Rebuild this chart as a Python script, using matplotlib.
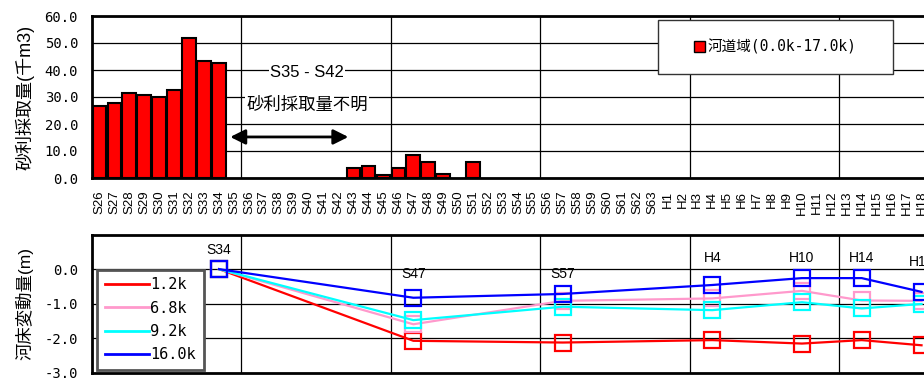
import matplotlib
matplotlib.use("Agg")
import matplotlib.pyplot as plt
from matplotlib.patches import Patch, Rectangle
from matplotlib.lines import Line2D

plt.rcParams['font.family'] = ['Liberation Sans', 'Noto Sans CJK JP']

# --- data ---
categories = ['S%d' % y for y in range(26, 64)] + ['H%d' % y for y in range(1, 19)]

bar_years = ['S26', 'S27', 'S28', 'S29', 'S30', 'S31', 'S32', 'S33', 'S34',
             'S43', 'S44', 'S45', 'S46', 'S47', 'S48', 'S49', 'S51']
bar_values = [26.7, 27.9, 31.6, 30.7, 30.0, 32.5, 52.0, 43.5, 42.7,
              3.6, 4.6, 1.0, 3.8, 8.6, 5.8, 1.4, 5.8]

survey_years = ['S34', 'S47', 'S57', 'H4', 'H10', 'H14', 'H18']
bed_1_2k = [0.0, -2.08, -2.13, -2.06, -2.16, -2.06, -2.21]
bed_6_8k = [0.0, -1.60, -0.92, -0.85, -0.63, -0.91, -0.92]
bed_9_2k = [0.0, -1.48, -1.09, -1.19, -0.96, -1.14, -1.01]
bed_16_0k = [0.0, -0.83, -0.72, -0.46, -0.26, -0.26, -0.66]
series_names = ['1.2k', '6.8k', '9.2k', '16.0k']
series_colors = ['#ff0000', '#ff99cc', '#00ffff', '#0000ff']

# label heights above the points (layout only)
label_y = [0.56, -0.14, -0.14, 0.32, 0.32, 0.32, 0.20]

mono = ['DejaVu Sans Mono', 'Noto Sans CJK JP']

fig = plt.figure(figsize=(9.24, 3.78), dpi=100)
ax1 = fig.add_axes([92 / 924, 1 - 178 / 378, 837 / 924, 162 / 378])
ax2 = fig.add_axes([92 / 924, 1 - 372.5 / 378, 837 / 924, 137.8 / 378])

pos = {c: i for i, c in enumerate(categories)}
n = len(categories)

# --- top: gravel extraction bars ---
ax1.bar([pos[c] for c in bar_years], bar_values, width=0.92, color='#ff0000',
        edgecolor='black', linewidth=1.5, zorder=3)
ax1.set_xlim(-0.5, n - 0.5)
ax1.set_ylim(0, 60)
ax1.set_yticks(range(0, 61, 10))
ax1.set_yticklabels(['%.1f' % v for v in range(0, 61, 10)], family=mono, fontsize=10)
ax1.set_xticks(range(n))
ax1.set_xticklabels(categories, rotation=90, fontsize=9.5)
ax1.tick_params(axis='x', length=0, pad=9)
ax1.tick_params(axis='y', length=0, pad=10)
ax1.grid(axis='y', color='black', linewidth=0.9, zorder=0)
for xv in range(10, n, 10):
    ax1.axvline(xv - 0.5, color='black', linewidth=0.9, zorder=0)
for s in ax1.spines.values():
    s.set_linewidth(2)
ax1.set_ylabel('砂利採取量(千m3)', fontsize=13, labelpad=7)

ax1.annotate('', xy=(8.75, 15.2), xytext=(16.65, 15.2),
             arrowprops=dict(arrowstyle='<|-|>,head_length=0.9,head_width=0.45',
                             color='black', lw=2, shrinkA=0, shrinkB=0))
ax1.text(13.9, 39.0, 'S35 - S42', ha='center', va='center', fontsize=12,
         bbox=dict(facecolor='white', edgecolor='none', pad=1), zorder=4)
ax1.text(13.9, 27.2, '砂利採取量不明', ha='center', va='center', fontsize=12.5,
         bbox=dict(facecolor='white', edgecolor='none', pad=1), zorder=4)

ax1.add_patch(Rectangle((0.676, 0.642), 0.281, 0.333, transform=ax1.transAxes,
                        facecolor='white', edgecolor='#333333', lw=1.0, zorder=4))
ax1.legend(handles=[Patch(facecolor='#ff0000', edgecolor='black')],
           labels=['河道域(0.0k-17.0k)'], loc='center',
           bbox_to_anchor=(0.676, 0.642, 0.281, 0.333),
           prop={'family': mono, 'size': 10.5}, frameon=False,
           handlelength=0.75, handleheight=0.75, handletextpad=0.2)

# --- bottom: riverbed change ---
xs = [pos[c] for c in survey_years]
for vals, name, col in zip([bed_1_2k, bed_6_8k, bed_9_2k, bed_16_0k], series_names, series_colors):
    ax2.plot(xs, vals, color=col, lw=1.6, marker='s', markersize=11,
             markerfacecolor='none', markeredgecolor=col, markeredgewidth=1.6,
             label=name, zorder=3)
for x, ly, t in zip(xs, label_y, survey_years):
    ax2.text(x, ly, t, ha='center', va='center', fontsize=10)

ax2.set_xlim(-0.5, n - 0.5)
ax2.set_ylim(-3, 1)
ax2.set_yticks([0, -1, -2, -3])
ax2.set_yticklabels(['0.0', '-1.0', '-2.0', '-3.0'], family=mono, fontsize=10)
ax2.set_xticks([])
ax2.tick_params(axis='y', length=0, pad=10)
for yv in [0, -1, -2]:
    ax2.axhline(yv, color='black', linewidth=0.9, zorder=0)
for xv in range(10, n, 10):
    ax2.axvline(xv - 0.5, color='black', linewidth=0.9, zorder=0)
for s in ax2.spines.values():
    s.set_linewidth(2)
ax2.set_ylabel('河床変動量(m)', fontsize=12.5, labelpad=8)

handles = [Line2D([], [], color=c, lw=2) for c in series_colors]
leg2 = ax2.legend(handles, series_names, loc='lower left',
                  bbox_to_anchor=(0.006, 0.018), borderaxespad=0,
                  prop={'family': mono, 'size': 11}, fancybox=False,
                  framealpha=1, edgecolor='#555555', handlelength=2.9,
                  handletextpad=0.1, labelspacing=0.55, borderpad=0.5)
leg2.get_frame().set_linewidth(2)

fig.savefig('out.png', dpi=100)
